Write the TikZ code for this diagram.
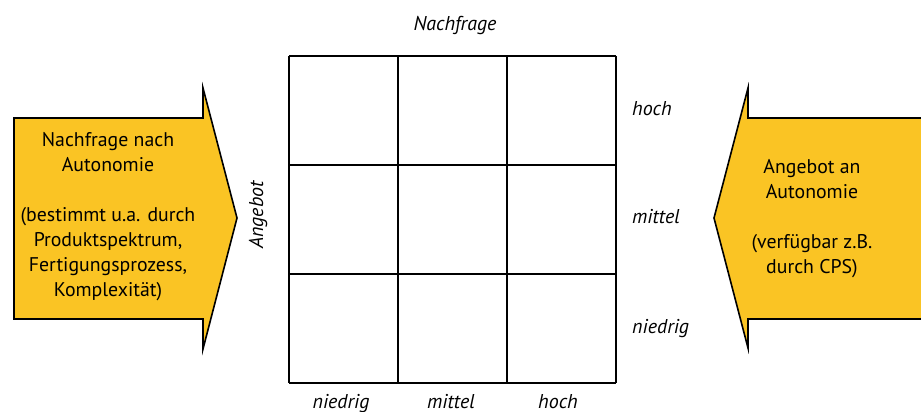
\documentclass[tikz,border=0pt]{standalone}
\usepackage{fontspec}
\setmainfont{PT Sans}
\definecolor{arrowfill}{RGB}{250,196,36}
\begin{document}
\begin{tikzpicture}[x=1pt,y=-1pt,
  gridline/.style={line width=1.8pt,draw=black},
  bigarrow/.style={fill=arrowfill,draw=black,line width=1.6pt,line join=miter},
  arrowtext/.style={align=center,font=\fontsize{19.8}{25}\selectfont,inner sep=0pt},
  axislabel/.style={font=\fontsize{20}{22}\itshape,inner sep=0pt}]
\useasboundingbox (0,0) rectangle (921,412);
% grid
\foreach \i/\x in {0/289,1/398,2/507,3/616}{
  \coordinate (v\i t) at (\x,56);
  \coordinate (v\i b) at (\x,383);
}
\foreach \j/\y in {0/56,1/165,2/274,3/383}{
  \coordinate (h\j l) at (289,\y);
  \coordinate (h\j r) at (616,\y);
}
\foreach \i in {0,1,2,3}{
  \draw[gridline] (v\i t) -- (v\i b);
  \draw[gridline] (h\i l) -- (h\i r);
}
% left arrow
\draw[bigarrow] (14,118) -- (203,118) -- (203,88) -- (237,218) -- (203,349) -- (203,319) -- (14,319) -- cycle;
\node[arrowtext] (lefttext) at (108,217) {Nachfrage nach\\Autonomie\\[25pt](bestimmt u.a. durch\\Produktspektrum,\\Fertigungsprozess,\\Komplexität)};
% right arrow
\draw[bigarrow] (925,118) -- (748,118) -- (748,88) -- (714,218) -- (748,348) -- (748,319) -- (925,319) -- cycle;
\node[arrowtext] (righttext) at (812,219) {Angebot an\\Autonomie\\[25pt](verfügbar z.B.\\durch CPS)};
% axis labels
\node[axislabel,anchor=base] (nachfrage) at (455,31) {Nachfrage};
\node[axislabel,anchor=base,rotate=90] (angebot) at (263,215) {Angebot};
\node[axislabel,anchor=base] (xniedrig) at (341,408) {niedrig};
\node[axislabel,anchor=base] (xmittel) at (451,408) {mittel};
\node[axislabel,anchor=base] (xhoch) at (558,408) {hoch};
\node[axislabel,anchor=base west] (yhoch) at (632,115) {hoch};
\node[axislabel,anchor=base west] (ymittel) at (632,223) {mittel};
\node[axislabel,anchor=base west] (yniedrig) at (632,333) {niedrig};
\end{tikzpicture}
\end{document}
